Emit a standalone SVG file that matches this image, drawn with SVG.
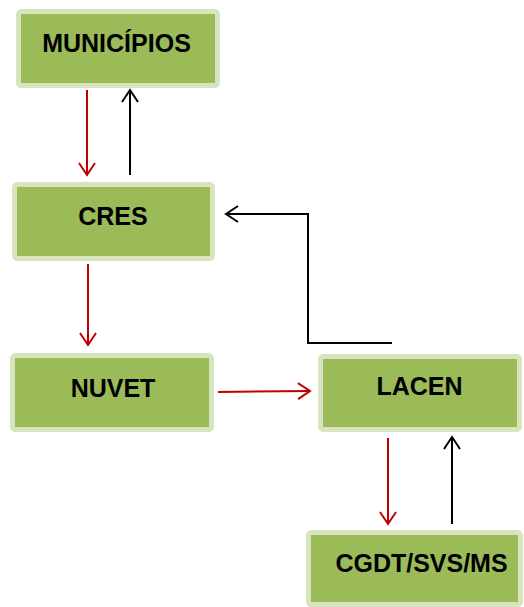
<svg xmlns="http://www.w3.org/2000/svg" width="524" height="607" viewBox="0 0 524 607">
<style>
.box{fill:#9bbb59;stroke:#d7e4bd;stroke-width:5}
.lbl{font-family:"Liberation Sans",Arial,sans-serif;font-weight:bold;font-size:25px;fill:#000;text-anchor:middle}
.red{stroke:#c00000;stroke-width:2;fill:none}
.blk{stroke:#000;stroke-width:2;fill:none}
</style>
<defs>
<marker id="ar" markerUnits="userSpaceOnUse" markerWidth="20" markerHeight="20" refX="14" refY="10" orient="auto" viewBox="0 0 20 20">
<path d="M2,2 L14,10 L2,18" fill="none" stroke="#c00000" stroke-width="2"/>
</marker>
<marker id="ab" markerUnits="userSpaceOnUse" markerWidth="20" markerHeight="20" refX="14" refY="10" orient="auto" viewBox="0 0 20 20">
<path d="M2,2 L14,10 L2,18" fill="none" stroke="#000" stroke-width="2"/>
</marker>
</defs>
<g id="municipios"><rect class="box" x="18.5" y="11.5" width="199" height="74" rx="3"/><text class="lbl" x="116.5" y="52">MUNICÍPIOS</text></g>
<g id="cres"><rect class="box" x="14.5" y="184.5" width="198" height="74" rx="3"/><text class="lbl" x="113" y="225">CRES</text></g>
<g id="nuvet"><rect class="box" x="12.5" y="355.5" width="199" height="74" rx="3"/><text class="lbl" x="113" y="397">NUVET</text></g>
<g id="lacen"><rect class="box" x="320.5" y="356.5" width="199" height="73" rx="3"/><text class="lbl" x="419.5" y="395">LACEN</text></g>
<g id="cgdt"><rect class="box" x="308.5" y="532.5" width="212" height="72" rx="3"/><text class="lbl" x="421.5" y="572">CGDT/SVS/MS</text></g>
<g id="connectors">
<line class="red" x1="87" y1="90" x2="87" y2="175" marker-end="url(#ar)"/>
<line class="blk" x1="130" y1="175" x2="130" y2="90" marker-end="url(#ab)"/>
<line class="red" x1="88" y1="264" x2="88" y2="345" marker-end="url(#ar)"/>
<line class="red" x1="218" y1="392" x2="310" y2="391" marker-end="url(#ar)"/>
<polyline class="blk" points="392,343 308,343 308,214 226,214" marker-end="url(#ab)"/>
<line class="red" x1="388" y1="438" x2="388" y2="524" marker-end="url(#ar)"/>
<line class="blk" x1="452" y1="524" x2="452" y2="437" marker-end="url(#ab)"/>
</g>
</svg>
